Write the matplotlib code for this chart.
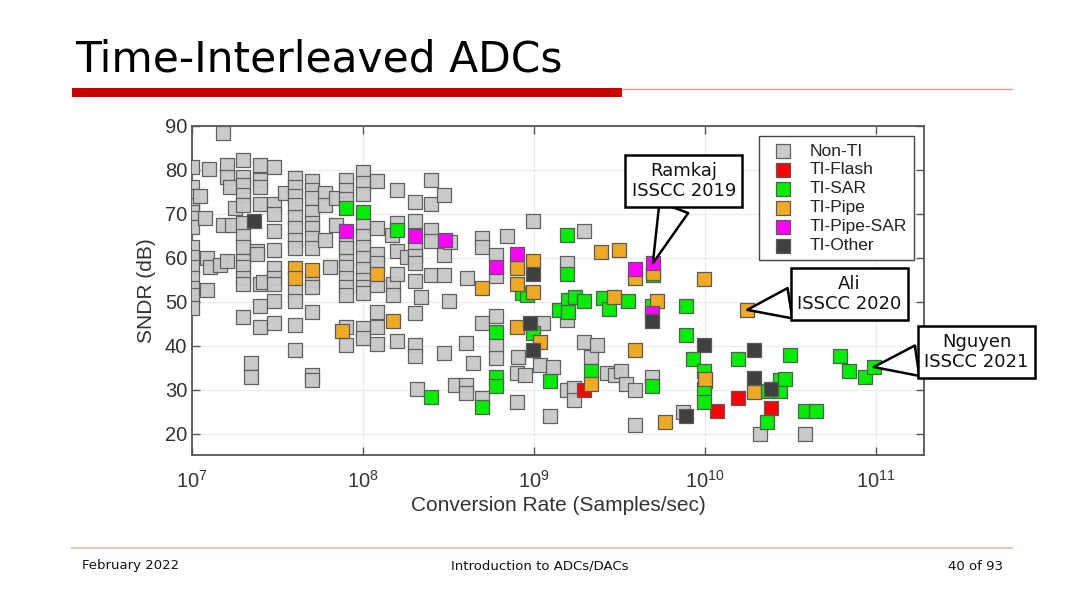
import matplotlib
matplotlib.use("Agg")
import matplotlib.pyplot as plt
from matplotlib.patches import Rectangle
from matplotlib.lines import Line2D
from matplotlib.ticker import FixedLocator, NullLocator

plt.rcParams['font.family'] = ['Liberation Sans', 'DejaVu Sans']
plt.rcParams['mathtext.fontset'] = 'custom'
plt.rcParams['mathtext.rm'] = 'Liberation Sans'
plt.rcParams['mathtext.it'] = 'Liberation Sans:italic'

# ---------------- data (sample rate in S/s, SNDR in dB) ----------------
nonti_rate = [1e7]*14 + [1.11e7, 1.19e7, 1.22e7, 1.22e7, 1.26e7, 1.27e7, 1.46e7, 1.51e7, 1.52e7,
              1.6e7, 1.6e7, 1.6e7, 1.67e7, 1.71e7, 1.78e7] + [2e7]*13 + [2.2e7, 2.2e7, 2.4e7, 2.4e7] \
    + [2.5e7]*7 + [2.6e7] + [3e7]*10 + [3.5e7] + [4e7]*12 + [5e7]*13 + [6e7]*3 + [6.4e7, 6.9e7, 6.9e7] \
    + [8e7]*12 + [1e8]*13 + [1.2e8]*8 + [1.47e8, 1.49e8, 1.49e8] + [1.58e8]*5 + [1.8e8] + [2e8]*9 \
    + [2.07e8, 2.17e8] + [2.49e8]*5 + [2.98e8]*4 + [3.16e8, 3.23e8, 3.45e8] + [3.98e8]*3 \
    + [4.04e8, 4.42e8] + [4.94e8]*4 + [5.96e8]*5 + [6.92e8, 7.94e8, 7.94e8, 8.09e8, 8.85e8, 9.9e8,
    1.08e9, 1.13e9, 1.23e9, 1.29e9, 1.55e9, 1.55e9, 1.55e9, 1.71e9, 1.71e9, 1.96e9, 1.96e9, 2.14e9,
    2.34e9, 2.66e9, 2.95e9, 3.21e9, 3.45e9, 3.89e9, 3.89e9, 4.88e9, 7.46e9, 2.09e10, 3.85e10]
nonti_sndr = [80.7, 76.2, 74, 72, 70.5, 69, 67.1, 62.5, 60.3, 58, 55.4, 53.1, 51.6, 48.6,
              74, 69, 59.9, 52.7, 80.2, 58, 58.4, 88.3, 67.6, 81.1, 78.5, 59.2, 76.2, 67.6, 71.3,
              82.2, 78.5, 76.6, 74.3, 72, 68, 64.9, 62.6, 59.2, 58, 55.5, 54, 46.5,
              36.1, 33, 61.6, 61,
              81.1, 77.7, 76.2, 72.3, 54, 49, 44.4, 54.6,
              80.7, 72.3, 70, 66.1, 61.8, 57.7, 55.4, 54, 50.1, 45.1, 74.7,
              78.1, 76.2, 74, 72, 69.4, 66.8, 64.1, 62.2, 52.7, 50.1, 44.8, 39.1,
              77.4, 75.5, 73.6, 70.5, 68, 66.8, 64.5, 62.2, 55, 53.5, 47.8, 33.4, 32.3,
              74.7, 72, 64.1, 58, 73.6, 67.6,
              77.7, 75.5, 73.4, 63.7, 62.2, 59.2, 58, 55.4, 53.5, 51.6, 44.4, 40.2,
              79.5, 77, 74.5, 67.6, 64.9, 62.6, 59.9, 57.5, 55, 53.5, 52, 44, 41.7,
              77.4, 66.8, 61, 58.8, 53.9, 47.6, 44.4, 40.4,
              65.2, 54, 51.6, 75.5, 67.9, 61.5, 56.4, 41.2, 60.3,
              72.8, 68.3, 62.2, 60.5, 58.8, 54.8, 47.4, 40.2, 37.6,
              30.1, 51.2, 77.7, 72.2, 66.4, 63.9, 56.2, 74.2, 60.7, 56.2, 38.5,
              50.1, 63.7, 31.1, 40.6, 31.1, 29.2, 55.4, 36.1, 64.5, 62.6, 45.1, 28.1,
              60.7, 55.8, 46.9, 40.2, 37.2,
              64.9, 33.8, 27.2, 37.4, 33.4, 68.3,
              35.7, 45.1, 24, 35.3, 58.8, 45.9, 30, 30.4, 27.6, 66.1, 41, 37.4,
              40.2, 33.8, 33.3, 34.4, 31.4, 30, 22, 33, 24.9, 20, 20]

flash_rate = [1.96e9, 1.0e10, 1.17e10, 1.55e10, 2.43e10]
flash_sndr = [30, 32, 25.1, 28.1, 25.8]

sar_rate = [8e7, 1e8, 1.58e8, 2.49e8, 4.94e8, 5.96e8, 5.96e8, 5.96e8, 8.47e8, 9.06e8, 9.9e8,
            1.23e9, 1.4e9, 1.55e9, 1.55e9, 1.58e9, 1.58e9, 1.74e9, 1.96e9, 2.14e9, 2.54e9, 2.72e9,
            3.52e9, 4.88e9, 4.88e9, 4.94e9, 7.76e9, 7.76e9, 8.51e9, 9.77e9, 9.77e9, 9.77e9,
            1.55e10, 2.29e10, 2.29e10, 2.75e10, 2.75e10, 2.94e10, 3.11e10, 3.85e10, 4.47e10,
            6.17e10, 6.92e10, 8.61e10, 9.66e10]
sar_sndr = [71.4, 70.5, 66.4, 28.5, 26.2, 43.2, 33, 30.9, 52, 51.6, 42.9,
            32.1, 48.2, 65.2, 56.3, 50.5, 47.8, 51.2, 50.3, 34.4, 50.9, 48.4,
            50.1, 49, 30.9, 56.1, 49.1, 42.5, 37, 34.2, 30.2, 27.2,
            37, 29.7, 22.8, 32.2, 29.7, 32.5, 38, 25.3, 25.3,
            37.6, 34.4, 33, 35.2]

pipe_rate = [4e7, 4e7, 5e7, 7.5e7, 1.2e8, 1.49e8, 4.94e8, 7.94e8, 7.94e8, 7.94e8, 9.9e8, 9.9e8,
             1.08e9, 2.14e9, 2.45e9, 2.92e9, 3.14e9, 3.89e9, 3.89e9, 4.94e9, 5.25e9, 5.83e9,
             9.77e9, 1.0e10, 1.76e10, 1.93e10]
pipe_sndr = [57.7, 55.4, 57.3, 43.5, 56.4, 45.6, 53.1, 57.7, 54.0, 44.4, 59.3, 52.2,
             41, 31.4, 61.3, 51.2, 61.8, 55.4, 39.1, 56.6, 50.1, 22.6,
             55.2, 32.4, 48.2, 29.6]

pipesar_rate = [8e7, 2e8, 3.02e8, 5.96e8, 7.94e8, 3.89e9, 4.88e9, 4.94e9]
pipesar_sndr = [66.1, 65.1, 64.1, 58, 61, 57.5, 47.5, 58.8]

other_rate = [2.31e7, 9.4e8, 9.9e8, 9.9e8, 4.88e9, 7.76e9, 9.77e9, 1.93e10, 1.93e10, 2.43e10]
other_sndr = [68.3, 45.1, 56.4, 39.1, 45.6, 24.1, 40.2, 39, 32.6, 30.3]

series_names = ['Non-TI', 'TI-Flash', 'TI-SAR', 'TI-Pipe', 'TI-Pipe-SAR', 'TI-Other']
series_colors = ['#c8c8c8', '#ff0000', '#00ee00', '#eeaa22', '#ff00ff', '#404040']

callout_text = ['Ramkaj\nISSCC 2019', 'Ali\nISSCC 2020', 'Nguyen\nISSCC 2021']
callout_point = [(4.94e9, 58.8), (1.76e10, 48.2), (9.66e10, 35.2)]
callout_box = [(7.5e9, 77.5), (6.95e10, 51.8), (3.85e11, 38.6)]

x_ticks = [1e7, 1e8, 1e9, 1e10, 1e11]
y_ticks = [20, 30, 40, 50, 60, 70, 80, 90]

# ---------------- figure ----------------
fig = plt.figure(figsize=(10.8, 6.07), dpi=100)
W, H = 1080, 607

fig.text(75 / W, 1 - 71 / H, 'Time-Interleaved ADCs', fontsize=30.5, color='black',
         ha='left', va='baseline', family=['DejaVu Sans'])
fig.patches.append(Rectangle((72 / W, 1 - 97 / H), (622 - 72) / W, 9 / H,
                             transform=fig.transFigure, facecolor='#cc0000', edgecolor='none'))
fig.lines.append(Line2D([622 / W, 1012 / W], [1 - 88.5 / H, 1 - 88.5 / H],
                        transform=fig.transFigure, color='#e89a9a', lw=1))
fig.lines.append(Line2D([72 / W, 1012 / W], [1 - 548 / H, 1 - 548 / H],
                        transform=fig.transFigure, color='#f2c4c4', lw=1.5))
for xp, txt, ha in [(82, 'February 2022', 'left'), (540, 'Introduction to ADCs/DACs', 'center'),
                    (1003, '40 of 93', 'right')]:
    fig.text(xp / W, 1 - 566 / H, txt, fontsize=9.5, ha=ha, va='center', color='#111',
             family=['DejaVu Sans'])

ax = fig.add_axes([192 / W, 1 - 455 / H, (924 - 192) / W, (455 - 126) / H])
ax.set_xscale('log')
ax.set_xlim(1e7, 1.9e11)
ax.set_ylim(15.2, 90)
ax.xaxis.set_major_locator(FixedLocator(x_ticks))
ax.xaxis.set_minor_locator(NullLocator())
ax.yaxis.set_major_locator(FixedLocator(y_ticks))
ax.grid(True, color='#ececec', lw=0.8, zorder=0)
ax.set_axisbelow(True)
for s in ax.spines.values():
    s.set_color('#555555')
    s.set_linewidth(1.3)
ax.tick_params(direction='in', length=6, width=1, top=True, right=True, colors='#555555',
               labelcolor='#333333', labelsize=14.5)
ax.tick_params(axis='x', pad=11)
ax.set_xlabel('Conversion Rate (Samples/sec)', fontsize=15, color='#333333', labelpad=3)
ax.set_ylabel('SNDR (dB)', fontsize=15, color='#333333', labelpad=6)

msize = 92
all_rates = [nonti_rate, flash_rate, sar_rate, pipe_rate, pipesar_rate, other_rate]
all_sndr = [nonti_sndr, flash_sndr, sar_sndr, pipe_sndr, pipesar_sndr, other_sndr]
handles = []
for i, (r, v) in enumerate(zip(all_rates, all_sndr)):
    h = ax.scatter(r, v, s=msize, marker='s', c=series_colors[i],
                   edgecolors='#5a5a5a', linewidths=0.9, alpha=0.95 if i == 0 else 1.0,
                   zorder=3 + i, label=series_names[i])
    handles.append(h)

leg = ax.legend(handles=handles, loc='upper right', fontsize=12.5, frameon=True,
                fancybox=False, framealpha=1, edgecolor='#444444', borderaxespad=0.6,
                handletextpad=0.5, labelspacing=0.22, borderpad=0.4, scatterpoints=1)
leg.get_frame().set_linewidth(1.0)
for t in leg.get_texts():
    t.set_color('#222222')
leg.set_zorder(20)

for txt, pt, bx in zip(callout_text, callout_point, callout_box):
    ax.annotate(txt, xy=pt, xytext=bx, xycoords='data', textcoords='data',
                ha='center', va='center', fontsize=13, family=['DejaVu Sans'],
                color='#111111', annotation_clip=False, zorder=30,
                bbox=dict(boxstyle='square,pad=0.35', fc='white', ec='black', lw=1.8),
                arrowprops=dict(arrowstyle='wedge,tail_width=1.7', fc='white', ec='black',
                                lw=1.8, shrinkA=0, shrinkB=0))

fig.savefig('out.png', dpi=100, facecolor='white')
